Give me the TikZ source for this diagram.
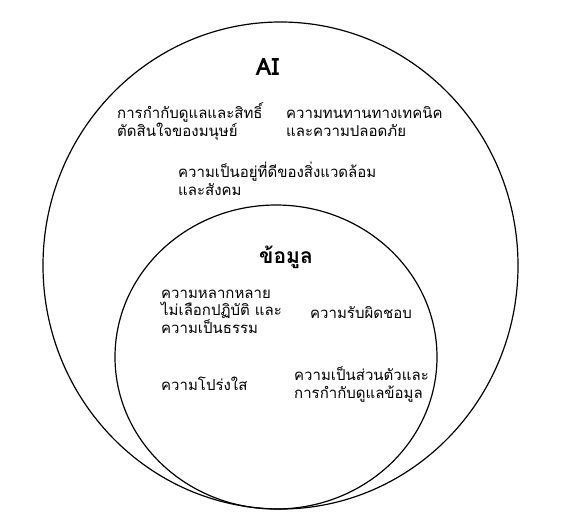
\documentclass[tikz,border=0pt]{standalone}
\usepackage{fontspec}
\newfontfamily\thaifont[Script=Thai]{Loma}
\begin{document}
\begin{tikzpicture}[x=1pt,y=-1pt,
  ring/.style={draw=black,line width=1.2pt},
  lbl/.style={anchor=base west,align=left,inner sep=0pt,font=\thaifont\fontsize{15}{17.5}\selectfont},
  ttl/.style={anchor=base,inner sep=0pt,font=\thaifont\bfseries\fontsize{21}{24}\selectfont}]
\useasboundingbox (0,0) rectangle (578,531);
\fill[white] (0,0) rectangle (578,531);
\draw[ring] (280.5,265.5) ellipse [x radius=237.5,y radius=243.5];
\draw[ring] (276,357) ellipse [x radius=161,y radius=152];
\node[ttl,font=\thaifont\bfseries\fontsize{24}{28}\selectfont] (ai) at (267.5,75) {AI};
\node[lbl] (gov) at (117,136) {การกำกับดูแลและสิทธิ์\\ตัดสินใจของมนุษย์};
\node[lbl] (tech) at (286,136) {ความทนทานทางเทคนิค\\และความปลอดภัย};
\node[lbl] (env) at (178,195) {ความเป็นอยู่ที่ดีของสิ่งแวดล้อม\\และสังคม};
\node[ttl] (data) at (286,263) {ข้อมูล};
\node[lbl] (div) at (161,333) {ความหลากหลาย\\ไม่เลือกปฏิบัติ และ\\ความเป็นธรรม};
\node[lbl] (acc) at (310,318) {ความรับผิดชอบ};
\node[lbl] (tra) at (161,390) {ความโปร่งใส};
\node[lbl] (priv) at (294,398) {ความเป็นส่วนตัวและ\\การกำกับดูแลข้อมูล};
\end{tikzpicture}
\end{document}
